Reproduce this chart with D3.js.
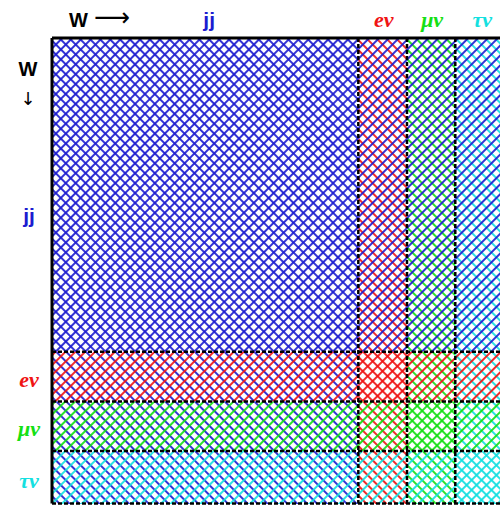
<!DOCTYPE html>
<html>
<head>
<meta charset="utf-8">
<script src="https://cdn.jsdelivr.net/npm/d3@7"></script>
<style>
  body { margin: 0; background: #fff; }
  svg { display: block; }
</style>
</head>
<body>
<script>
// W decay channels and their branching fractions
var channels = ["jj", "eν", "μν", "τν"];
var fractions = [0.6741, 0.1071, 0.1063, 0.1138];
var colors = ["#1c1cd0", "#f01414", "#14e014", "#14e0e0"];
var italic = [false, true, true, true];

var width = 500, height = 512;

var svg = d3.select("body").append("svg")
  .attr("width", width)
  .attr("height", height);

// cumulative edges
var edges = [0];
fractions.forEach(function(f, i) { edges.push(edges[i] + f); });

var x = d3.scaleLinear().domain([0, edges[edges.length - 1]]).range([52, 507]);
var y = d3.scaleLinear().domain([0, edges[edges.length - 1]]).range([38, 504]);

var cells = [];
channels.forEach(function(r, i) {
  channels.forEach(function(c, j) {
    cells.push({ row: i, col: j });
  });
});

// hatch patterns: "/" for rows, "\" for columns
var defs = svg.append("defs");
var makePattern = function(id, color, angle) {
  var p = defs.append("pattern")
    .attr("id", id)
    .attr("patternUnits", "userSpaceOnUse")
    .attr("width", 7)
    .attr("height", 7)
    .attr("patternTransform", "rotate(" + angle + ")");
  p.append("line")
    .attr("x1", 1).attr("y1", -1)
    .attr("x2", 1).attr("y2", 8)
    .attr("stroke", color)
    .attr("stroke-width", 1.8);
};
colors.forEach(function(c, i) {
  makePattern("col" + i, c, -45);
  makePattern("row" + i, c, 45);
});

var cellG = svg.append("g");
cellG.selectAll(".colfill").data(cells).enter().append("rect")
  .attr("class", "colfill")
  .attr("x", function(d) { return x(edges[d.col]); })
  .attr("y", function(d) { return y(edges[d.row]); })
  .attr("width", function(d) { return x(edges[d.col + 1]) - x(edges[d.col]); })
  .attr("height", function(d) { return y(edges[d.row + 1]) - y(edges[d.row]); })
  .attr("fill", function(d) { return "url(#col" + d.col + ")"; });
cellG.selectAll(".rowfill").data(cells).enter().append("rect")
  .attr("class", "rowfill")
  .attr("x", function(d) { return x(edges[d.col]); })
  .attr("y", function(d) { return y(edges[d.row]); })
  .attr("width", function(d) { return x(edges[d.col + 1]) - x(edges[d.col]); })
  .attr("height", function(d) { return y(edges[d.row + 1]) - y(edges[d.row]); })
  .attr("fill", function(d) { return "url(#row" + d.row + ")"; });

// dashed dividers
var inner = edges.slice(1, edges.length - 1);
svg.selectAll(".vdiv").data(inner).enter().append("line")
  .attr("x1", function(d) { return x(d); })
  .attr("x2", function(d) { return x(d); })
  .attr("y1", y(0)).attr("y2", y(1))
  .attr("stroke", "#000").attr("stroke-width", 2.5)
  .attr("stroke-dasharray", "4,2");
svg.selectAll(".hdiv").data(inner).enter().append("line")
  .attr("y1", function(d) { return y(d); })
  .attr("y2", function(d) { return y(d); })
  .attr("x1", x(0)).attr("x2", x(1))
  .attr("stroke", "#000").attr("stroke-width", 2.5)
  .attr("stroke-dasharray", "4,2");

// frame
svg.append("line").attr("x1", x(0)).attr("x2", x(1)).attr("y1", y(0)).attr("y2", y(0))
  .attr("stroke", "#000").attr("stroke-width", 3);
svg.append("line").attr("x1", x(0)).attr("x2", x(0)).attr("y1", y(0)).attr("y2", y(1))
  .attr("stroke", "#000").attr("stroke-width", 3);
svg.append("line").attr("x1", x(0)).attr("x2", x(1)).attr("y1", y(1)).attr("y2", y(1))
  .attr("stroke", "#000").attr("stroke-width", 2.5).attr("stroke-dasharray", "4,2");

// labels
var sans = "'Liberation Sans', Arial, sans-serif";
var serif = "'Liberation Serif', 'Times New Roman', serif";

svg.append("text").attr("x", 69).attr("y", 27)
  .attr("font-family", sans).attr("font-weight", "bold").attr("font-size", 20)
  .text("W");
svg.append("text").attr("x", 94).attr("y", 26)
  .attr("font-family", "'DejaVu Sans', sans-serif").attr("font-size", 26)
  .attr("textLength", 36).attr("lengthAdjust", "spacingAndGlyphs")
  .text("⟶");
svg.append("text").attr("x", 28).attr("y", 76)
  .attr("text-anchor", "middle")
  .attr("font-family", sans).attr("font-weight", "bold").attr("font-size", 20)
  .text("W");
svg.append("text").attr("x", 28).attr("y", 105)
  .attr("text-anchor", "middle")
  .attr("font-family", "'DejaVu Sans', sans-serif").attr("font-size", 18)
  .text("↓");

var labFont = function(sel) {
  sel.attr("font-family", function(d, i) { return italic[i] ? serif : sans; })
    .attr("font-style", function(d, i) { return italic[i] ? "italic" : "normal"; })
    .attr("font-weight", "bold")
    .attr("font-size", function(d, i) { return italic[i] ? 22 : 21; })
    .attr("fill", function(d, i) { return colors[i]; })
    .attr("text-anchor", "middle")
    .text(function(d) { return d; });
};

svg.selectAll(".toplab").data(channels).enter().append("text")
  .attr("class", "toplab")
  .attr("x", function(d, i) { return (x(edges[i]) + x(edges[i + 1])) / 2 + (i === 0 ? 4 : 1); })
  .attr("y", 27)
  .call(labFont);

svg.selectAll(".leftlab").data(channels).enter().append("text")
  .attr("class", "leftlab")
  .attr("x", 29)
  .attr("y", function(d, i) { return (y(edges[i]) + y(edges[i + 1])) / 2 + (i === 0 ? 28 : 10); })
  .call(labFont);
</script>
</body>
</html>
